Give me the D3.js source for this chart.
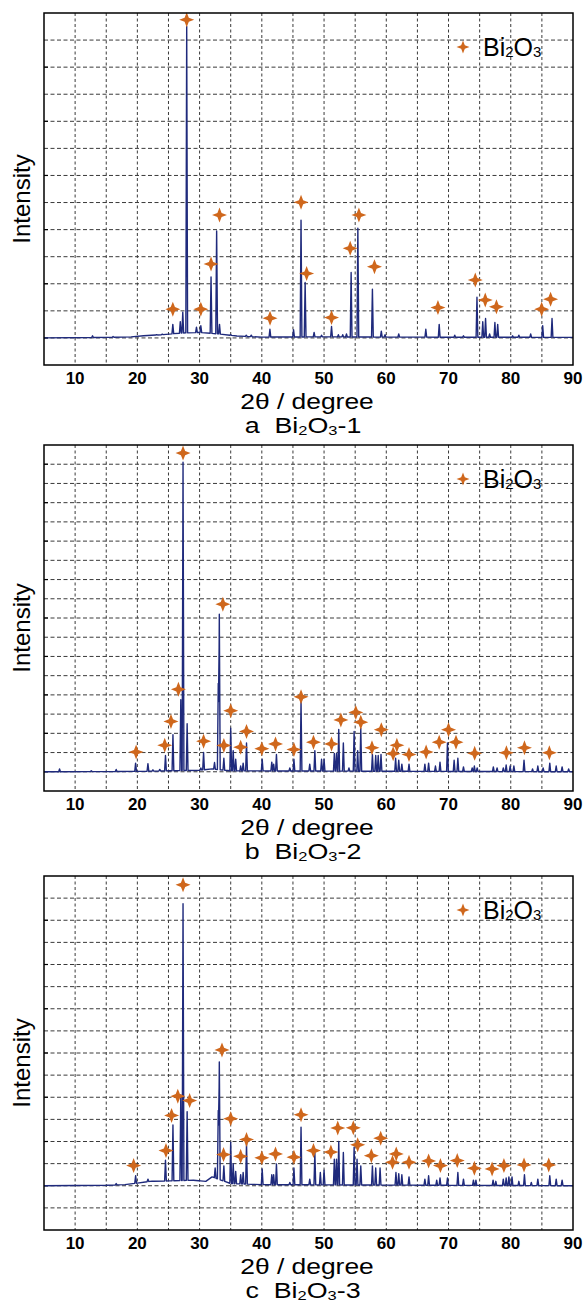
<!DOCTYPE html>
<html>
<head>
<meta charset="utf-8">
<script src="https://cdn.jsdelivr.net/npm/d3@7"></script>
<style>
  body { margin: 0; background: #fff; }
  svg { display: block; }
  text { font-family: Arial, "Liberation Sans", sans-serif; fill: #000; }
</style>
</head>
<body>
<svg id="chart" width="584" height="1303"></svg>
<script>
// 2theta axis
const xTicks = [10, 20, 30, 40, 50, 60, 70, 80, 90]
const xGrid = [10, 15, 20, 25, 30, 35, 40, 45, 50, 55, 60, 65, 70, 75, 80, 85]

const captions = [
  ['a', '-1'],
  ['b', '-2'],
  ['c', '-3']
]

// peaks: [2theta, intensity in grid steps above baseline]
const peaksA = [[12.8,0.08],[16.1,0.05],[23.1,0.12],[24.0,0.14],[25.7,0.5],[26.9,0.6],[27.3,0.95],[27.93,11.5],
  [29.5,0.4],[30.2,0.45],[31.84,2.25],[32.74,3.95],[33.2,0.5],[35.0,0.12],[37.5,0.1],[38.3,0.1],[41.3,0.32],
  [45.1,0.3],[46.3,4.35],[46.96,2.05],[48.4,0.2],[49.6,0.1],[51.2,0.42],[52.3,0.12],[53.0,0.12],[53.6,0.15],
  [54.35,2.42],[55.43,4.05],[57.77,1.8],[59.2,0.25],[59.8,0.12],[62.0,0.15],[66.35,0.32],[68.5,0.5],[71.0,0.1],
  [72.4,0.08],[74.57,1.5],[75.5,0.6],[75.95,0.72],[76.6,0.15],[77.45,0.57],[77.9,0.5],[80.3,0.08],[81.3,0.1],
  [83.2,0.15],[85.13,0.45],[86.63,0.72]]
const starsA = [[27.93,11.75],[25.7,1.06],[30.2,1.06],[31.84,2.73],[33.2,4.54],[41.32,0.73],[46.3,5.01],[47.2,2.38],
  [51.2,0.75],[54.2,3.31],[55.6,4.54],[58.1,2.63],[68.3,1.12],[74.3,2.14],[75.9,1.4],[77.7,1.15],[84.96,1.06],[86.4,1.43]]
const baseA = [[5,0],[15,0.02],[19,0.04],[21,0.08],[24,0.12],[27,0.18],[30,0.2],[33,0.15],[36,0.07],[40,0.03],
  [50,0.04],[60,0.03],[90,0.02]]

const peaksB = [[7.5,0.15],[12.6,0.05],[16.6,0.12],[19.72,0.45],[21.7,0.42],[22.5,0.1],[23.6,0.12],[24.52,0.85],
  [25.72,1.93],[26.98,3.75],[27.34,16.1],[28.0,2.5],[30.2,0.2],[30.64,1.0],[32.4,0.48],[33.0,4.6],[33.17,8.2],
  [33.9,0.7],[35.0,2.27],[35.4,1.1],[35.8,0.65],[36.6,0.3],[37.0,0.45],[37.54,1.5],[40.06,0.65],[41.6,0.5],
  [41.9,0.4],[42.35,0.9],[44.5,0.2],[45.16,0.65],[46.3,3.65],[47.7,0.4],[48.52,1.1],[49.6,0.65],[50.0,0.65],
  [51.65,0.95],[52.0,0.95],[52.36,2.2],[53.1,1.5],[54.0,0.2],[54.83,2.1],[55.4,1.1],[55.9,2.27],[57.77,0.9],
  [58.3,0.85],[58.7,0.85],[59.15,0.9],[61.5,0.7],[62.0,0.6],[62.5,0.4],[63.65,0.4],[66.2,0.4],[66.8,0.45],
  [67.9,0.3],[68.63,0.5],[69.83,1.5],[70.9,0.6],[71.5,0.7],[72.4,0.25],[73.8,0.2],[74.15,0.3],[74.6,0.2],
  [77.2,0.25],[77.8,0.2],[78.8,0.2],[79.26,0.35],[79.9,0.3],[80.5,0.3],[82.13,0.6],[83.5,0.15],[84.35,0.3],
  [85.2,0.2],[86.27,0.45],[87.3,0.3],[88.25,0.25],[89.3,0.15]]
const starsB = [[27.34,16.58],[26.6,4.29],[25.4,2.62],[24.4,1.38],[19.8,1.03],[30.64,1.59],[33.74,8.72],[33.9,1.37],
  [35.0,3.18],[36.6,1.28],[37.54,2.1],[40.0,1.2],[42.2,1.45],[45.16,1.16],[46.3,3.9],[48.3,1.54],[51.2,1.45],
  [52.7,2.7],[55.1,3.09],[55.9,2.58],[57.7,1.25],[59.2,2.19],[61.1,0.94],[61.7,1.38],[63.65,0.9],[66.4,1.03],
  [68.5,1.54],[70.0,2.19],[71.2,1.54],[74.2,0.96],[79.3,0.99],[82.2,1.25],[86.2,0.99]]
const baseB = [[5,0],[20,0.02],[25,0.05],[30,0.08],[32,0.15],[35,0.05],[90,0]]

const peaksC = [[16.6,0.1],[19.72,0.45],[21.7,0.3],[22.5,0.15],[24.52,1.15],[25.72,2.75],[26.98,4.1],[27.34,12.75],
  [28.0,3.35],[30.0,0.15],[32.5,0.8],[33.0,3.4],[33.17,5.6],[33.9,0.9],[35.0,1.97],[35.4,1.0],[35.8,0.65],
  [36.6,0.5],[37.0,0.6],[37.54,1.9],[40.06,0.76],[41.6,0.5],[41.9,0.5],[42.35,0.98],[44.5,0.15],[45.16,0.8],
  [46.3,2.65],[47.7,0.3],[48.52,1.5],[49.4,0.6],[50.0,0.7],[51.65,1.2],[52.0,1.2],[52.36,2.0],[53.1,1.5],
  [54.83,1.74],[55.3,1.2],[55.9,0.9],[57.77,0.9],[58.3,0.8],[59.0,0.8],[61.55,0.6],[62.0,0.55],[62.5,0.5],
  [63.65,0.4],[66.2,0.3],[66.8,0.45],[68.1,0.25],[68.63,0.35],[69.83,0.35],[71.5,0.6],[72.4,0.3],[74.0,0.25],
  [74.4,0.25],[77.16,0.25],[77.6,0.2],[78.8,0.3],[79.26,0.35],[79.7,0.4],[80.2,0.4],[81.3,0.2],[82.2,0.5],
  [83.3,0.15],[84.35,0.3],[86.27,0.45],[87.3,0.3],[88.25,0.25]]
const starsC = [[27.34,13.6],[26.5,4.05],[28.4,3.85],[25.5,3.18],[24.6,1.59],[19.4,0.91],[33.6,6.14],[33.85,1.41],
  [35.0,3.03],[36.6,1.33],[37.54,2.09],[40.0,1.26],[42.2,1.44],[45.16,1.29],[46.3,3.21],[48.3,1.59],[51.1,1.52],
  [52.2,2.61],[54.7,2.62],[55.4,1.85],[57.6,1.36],[59.1,2.15],[61.0,1.06],[61.6,1.44],[63.65,1.06],[66.8,1.12],
  [68.7,0.91],[71.4,1.14],[74.15,0.79],[77.0,0.76],[78.9,0.91],[82.13,0.94],[86.1,0.94]]
const baseC = [[5,0],[15,0.02],[18,0.05],[20,0.12],[22,0.2],[25,0.22],[29,0.25],[31,0.2],[32,0.4],[33,0.3],
  [35,0.1],[40,0.05],[90,0]]

const lineColor = '#1f2a7c'
const starColor = '#cf671c'
const gridColor = '#3a3a3a'

const svg = d3.select('#chart')
const left = 44
const right = 573
const x = d3.scaleLinear().domain([5, 90]).range([left, right])

// panel boxes (layout only)
const panels = [
  { top: 13, bottom: 365, yDomain: [-1, 12], peaks: peaksA, stars: starsA, base: baseA },
  { top: 445, bottom: 791, yDomain: [-1, 17], peaks: peaksB, stars: starsB, base: baseB },
  { top: 876, bottom: 1230, yDomain: [-2, 14], peaks: peaksC, stars: starsC, base: baseC }
]

function starPath(r) {
  const k = r * 0.28
  return `M0,${-r}L${k},${-k}L${r},0L${k},${k}L0,${r}L${-k},${k}L${-r},0L${-k},${-k}Z`
}

function baseAt(base, t) {
  for (let i = 1; i < base.length; i++) {
    if (t <= base[i][0]) {
      const [x0, y0] = base[i - 1]
      const [x1, y1] = base[i]
      return y0 + (y1 - y0) * (t - x0) / (x1 - x0)
    }
  }
  return base[base.length - 1][1]
}

// trace = baseline plus narrow triangular peaks
function buildTrace(peaks, base) {
  const w = 0.14
  const xs = new Set(base.map(d => d[0]))
  peaks.forEach(([p]) => { xs.add(p - w); xs.add(p); xs.add(p + w) })
  const sorted = Array.from(xs).sort((a, b) => a - b)
  return sorted.map(t => {
    let v = baseAt(base, t)
    peaks.forEach(([p, h]) => {
      const d = Math.abs(t - p)
      if (d < w) v = Math.max(v, baseAt(base, t) + (h - baseAt(base, p)) * (1 - d / w))
    })
    return [t, v]
  })
}

function formula(sel, size, tail) {
  sel.append('tspan').text('Bi')
  sel.append('tspan').attr('font-size', size).attr('dy', 1.5).text('2')
  sel.append('tspan').attr('dy', -1.5).text('O')
  sel.append('tspan').attr('font-size', size).attr('dy', 1.5).text('3')
  if (tail) sel.append('tspan').attr('dy', -1.5).text(tail)
}

panels.forEach((p, i) => {
  const y = d3.scaleLinear().domain(p.yDomain).range([p.bottom, p.top])
  const g = svg.append('g')

  const yGrid = d3.range(p.yDomain[0] + 1, p.yDomain[1])

  // dashed grid
  g.selectAll('.hgrid').data(yGrid).join('line')
    .attr('x1', left).attr('x2', right)
    .attr('y1', d => y(d)).attr('y2', d => y(d))
    .attr('stroke', gridColor).attr('stroke-width', 1).attr('stroke-dasharray', '4,2.5')
  g.selectAll('.vgrid').data(xGrid).join('line')
    .attr('x1', d => x(d)).attr('x2', d => x(d))
    .attr('y1', p.top).attr('y2', p.bottom)
    .attr('stroke', gridColor).attr('stroke-width', 1).attr('stroke-dasharray', '3,2.5')

  // small ticks on the left axis
  g.selectAll('.ytick').data(yGrid.filter(d => d % 2 === 0)).join('line')
    .attr('x1', left).attr('x2', left + 4)
    .attr('y1', d => y(d)).attr('y2', d => y(d))
    .attr('stroke', '#000').attr('stroke-width', 1.2)

  // pattern
  const line = d3.line().x(d => x(d[0])).y(d => y(d[1]))
  g.append('path')
    .attr('d', line(buildTrace(p.peaks, p.base)))
    .attr('fill', 'none').attr('stroke', lineColor).attr('stroke-width', 1.4)
    .attr('stroke-linejoin', 'round')

  // peak markers
  g.selectAll('.star').data(p.stars).join('path')
    .attr('d', starPath(7.5))
    .attr('transform', d => `translate(${x(d[0])},${y(d[1])})`)
    .attr('fill', starColor)

  // frame
  g.append('rect')
    .attr('x', left).attr('y', p.top)
    .attr('width', right - left).attr('height', p.bottom - p.top)
    .attr('fill', 'none').attr('stroke', '#000').attr('stroke-width', 1.5)

  // x tick labels
  g.selectAll('.xlab').data(xTicks).join('text')
    .attr('x', d => x(d)).attr('y', p.bottom + 19)
    .attr('text-anchor', 'middle').attr('font-size', 17).attr('font-weight', 'bold')
    .text(d => d)

  // the source lettering is wide, so stretch it horizontally
  g.append('text')
    .attr('transform', `translate(307,${p.bottom + 43.5}) scale(1.2,1)`)
    .attr('text-anchor', 'middle').attr('font-size', 22)
    .text('2θ / degree')

  const cap = g.append('text')
    .attr('transform', `translate(303,${p.bottom + 68}) scale(1.22,1)`)
    .attr('text-anchor', 'middle').attr('font-size', 22)
    .attr('xml:space', 'preserve')
  cap.append('tspan').text(captions[i][0] + '\u00a0\u00a0')
  formula(cap, 13.5, captions[i][1])

  const cy = (p.top + p.bottom) / 2 + 10
  g.append('text')
    .attr('transform', `translate(22,${cy}) rotate(-90)`)
    .attr('dy', '0.35em')
    .attr('text-anchor', 'middle').attr('font-size', 24)
    .text('Intensity')

  // legend
  g.append('path')
    .attr('d', starPath(6.5))
    .attr('transform', `translate(463,${p.top + 34})`)
    .attr('fill', starColor)
  const leg = g.append('text')
    .attr('x', 483).attr('y', p.top + 34).attr('dy', '0.35em')
    .attr('font-size', 25)
  formula(leg, 15)
})
</script>
</body>
</html>
